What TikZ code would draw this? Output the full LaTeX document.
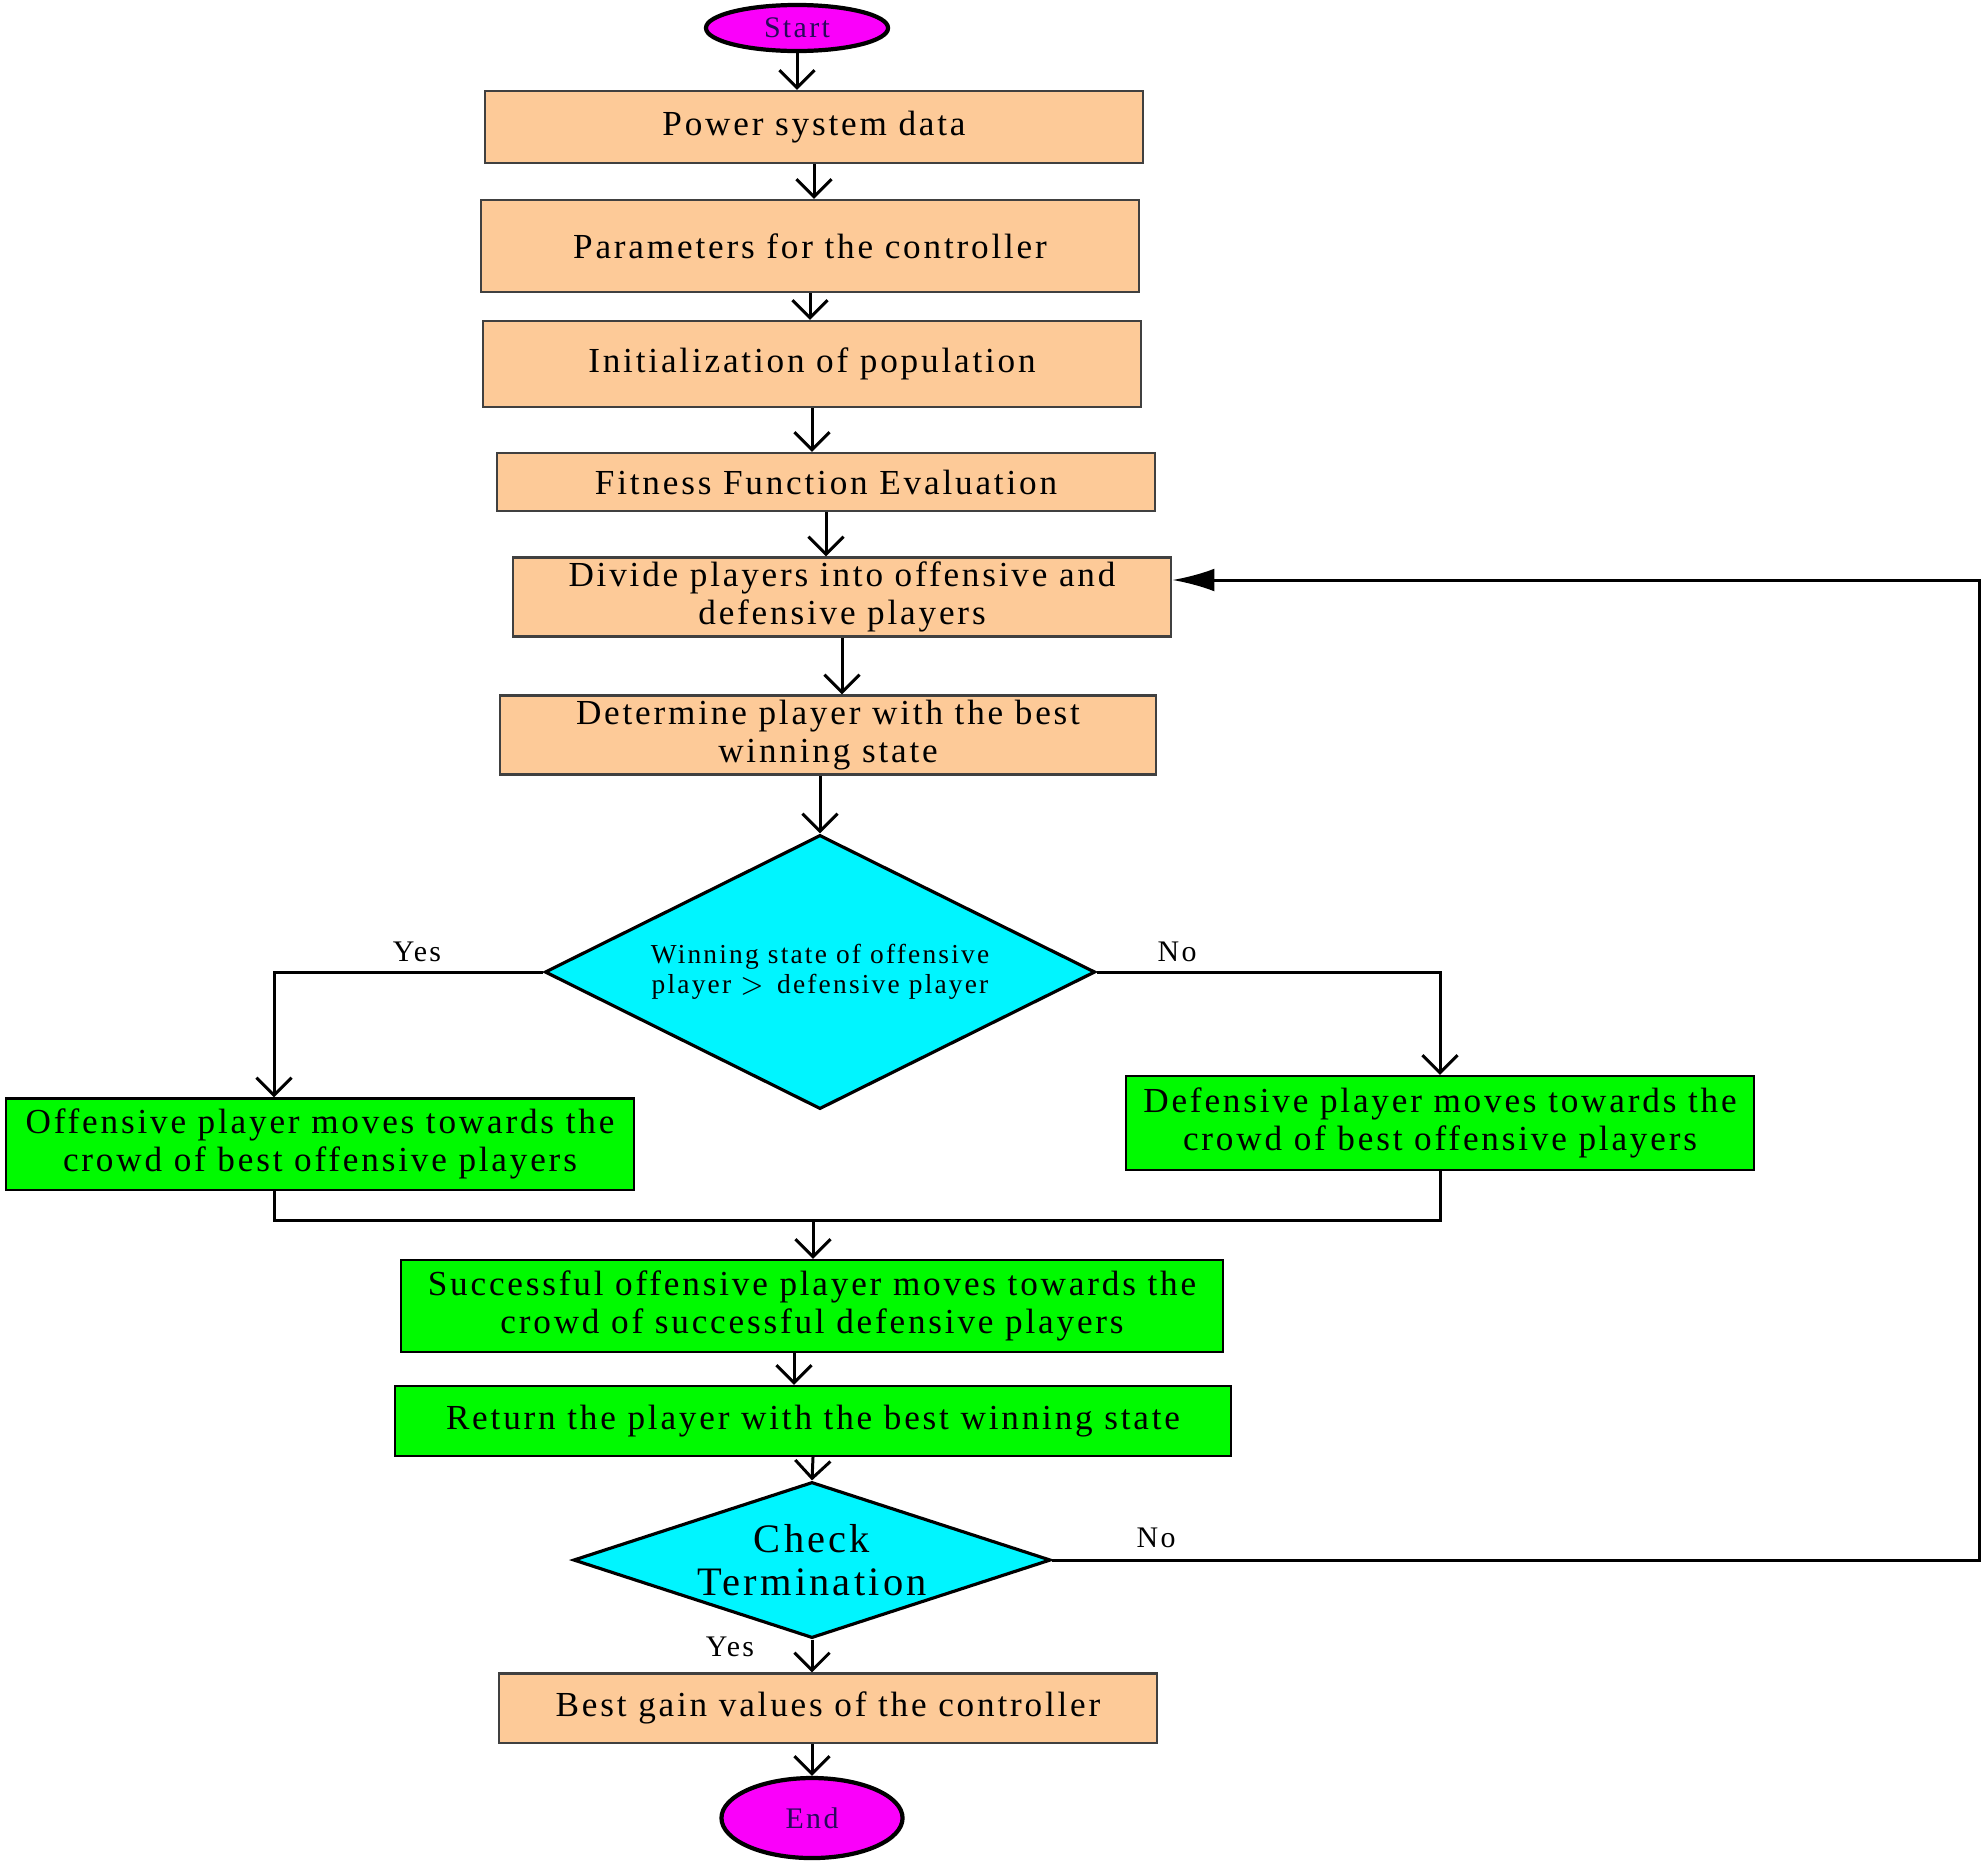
\documentclass[tikz,border=0pt]{standalone}
\usepackage{fontspec}
\setmainfont{Liberation Serif}[LetterSpace=8]
\usetikzlibrary{shapes.geometric,arrows.meta,positioning}

\definecolor{peach}{RGB}{253,202,152}
\definecolor{brightgreen}{RGB}{0,250,0}
\definecolor{aqua}{RGB}{0,245,255}
\definecolor{termfill}{RGB}{250,0,250}
\definecolor{termtext}{RGB}{40,10,90}

\tikzset{
  procbox/.style={rectangle, draw=black!75, line width=0.6pt, fill=peach,
    align=center, inner sep=0pt, font=\fontsize{10}{10.8}\selectfont},
  movebox/.style={procbox, draw=black, fill=brightgreen},
  decision/.style={diamond, draw=black, line width=0.9pt, fill=aqua,
    align=center, inner sep=0pt},
  terminal/.style={ellipse, draw=black, line width=1.2pt, fill=termfill,
    inner sep=0pt, text=termtext, font=\fontsize{8.5}{9}\selectfont},
  flow/.style={draw=black, line width=0.85pt, -{Straight Barb[length=5pt,width=10pt]}},
  link/.style={draw=black, line width=0.85pt},
  back/.style={draw=black, line width=0.85pt, -{Latex[length=12pt,width=6.5pt]}},
  lbl/.style={font=\fontsize{8.5}{9}\selectfont, inner sep=1pt}
}

\begin{document}
\begin{tikzpicture}[x=0.01cm, y=-0.01cm]
    \useasboundingbox (0,0) rectangle (1983,1866);

    % main column
    \node[terminal, minimum width=1.82cm, minimum height=0.46cm] (start) at (797,28) {Start};
    \node[procbox, minimum width=6.57cm, minimum height=0.72cm] (data) at (814,127) {Power system data};
    \node[procbox, minimum width=6.57cm, minimum height=0.92cm] (param) at (810,246) {Parameters for the controller};
    \node[procbox, minimum width=6.57cm, minimum height=0.86cm] (init) at (812,364) {Initialization of population};
    \node[procbox, minimum width=6.58cm, minimum height=0.58cm] (fit) at (826,482) {Fitness Function Evaluation};
    \node[procbox, minimum width=6.58cm, minimum height=0.79cm] (divide) at (842,597) {Divide players into offensive and\\defensive players};
    \node[procbox, minimum width=6.56cm, minimum height=0.79cm] (best) at (828,735) {Determine player with the best\\winning state};

    % first decision
    \node[decision, minimum width=5.5cm, minimum height=2.74cm, aspect=2,
      font=\fontsize{7.8}{8.6}\selectfont] (win) at (820,972) {Winning state of offensive\\player $>$\, defensive player};

    \node[movebox, minimum width=6.28cm, minimum height=0.91cm] (off) at (320,1144) {Offensive player moves towards the\\crowd of best offensive players};
    \node[movebox, minimum width=6.27cm, minimum height=0.94cm] (def) at (1440,1123) {Defensive player moves towards the\\crowd of best offensive players};

    \node[movebox, minimum width=8.21cm, minimum height=0.92cm] (succ) at (812,1306) {Successful offensive player moves towards the\\crowd of successful defensive players};
    \node[movebox, minimum width=8.36cm, minimum height=0.70cm] (ret) at (813,1421) {Return the player with the best winning state};

    % second decision
    \node[decision, minimum width=4.77cm, minimum height=1.56cm, aspect=3,
      font=\fontsize{11.5}{12.2}\selectfont] (check) at (812,1560) {Check\\Termination};

    \node[procbox, minimum width=6.57cm, minimum height=0.69cm] (gain) at (828,1708) {Best gain values of the controller};
    \node[terminal, minimum width=1.81cm, minimum height=0.80cm] (end) at (812,1818) {End};

    % helper points
    \coordinate (yescol) at (274,0);
    \coordinate (join) at (813,1220);
    \coordinate (loopcol) at (1979,0);
    \coordinate (loopin) at ([yshift=0.17cm]divide.east);
    \coordinate (retin) at ([xshift=-0.18cm]succ.south);

    % arrows down the column
    \draw[flow] (start.south) -- (start.south |- data.north);
    \draw[flow] (data.south) -- (data.south |- param.north);
    \draw[flow] (param.south) -- (param.south |- init.north);
    \draw[flow] (init.south) -- (init.south |- fit.north);
    \draw[flow] (fit.south) -- (fit.south |- divide.north);
    \draw[flow] (divide.south) -- (divide.south |- best.north);
    \draw[flow] (win.north |- best.south) -- (win.north);

    % branches
    \draw[flow] (win.west) -| (yescol |- off.north);
    \draw[flow] (win.east) -| (def.north);
    \draw[link] (yescol |- off.south) |- (join) -| (def.south);
    \draw[flow] (join) -- (join |- succ.north);

    \draw[flow] (retin) -- (retin |- ret.north);
    \draw[flow] (ret.south) -- (check.north);
    \draw[flow] (check.south) -- (check.south |- gain.north);
    \draw[flow] (gain.south -| end.north) -- (end.north);

    % loop back
    \draw[back] (check.east) -- (loopcol |- check.east) |- (loopin);

    % labels
    \node[lbl, anchor=south] (yes1) at (417,966) {Yes};
    \node[lbl, anchor=south] (no1) at (1177,966) {No};
    \node[lbl, anchor=south] (no2) at (1156,1552) {No};
    \node[lbl] (yes2) at (730,1647) {Yes};
\end{tikzpicture}
\end{document}
